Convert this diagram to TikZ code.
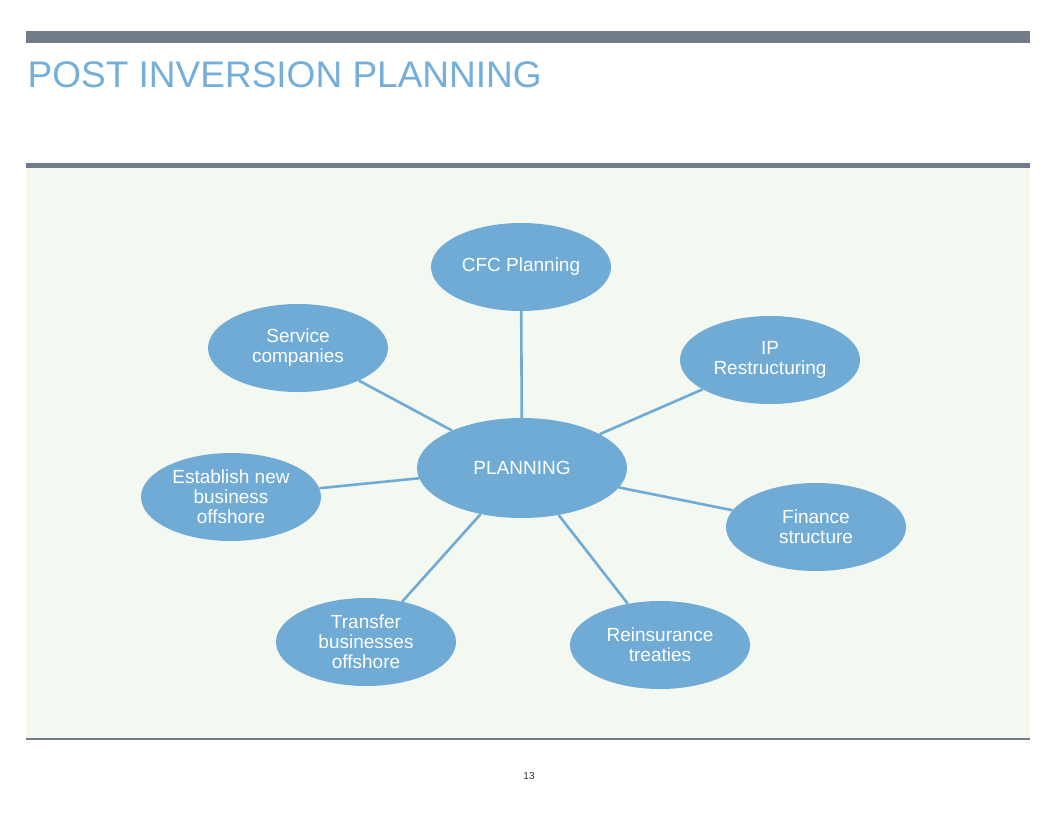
\documentclass[tikz,border=0pt]{standalone}
\usepackage{fontspec}
\setmainfont{Liberation Sans}
\usetikzlibrary{shapes.geometric}
\definecolor{bubble}{HTML}{70ABD6}
\definecolor{bar}{HTML}{727C88}
\definecolor{panel}{HTML}{F3F8F0}
\definecolor{titleblue}{HTML}{74AEDA}
\tikzset{
  bub/.style={ellipse, fill=bubble, draw=none, minimum width=180pt, minimum height=88pt, inner sep=0pt,
    align=center, text=white, font=\fontsize{19}{20}\selectfont},
  hub/.style={bub, minimum width=210pt, minimum height=100pt},
  link/.style={draw=bubble, line width=2.6pt}
}
\begin{document}
\begin{tikzpicture}[x=1pt,y=-1pt]
\useasboundingbox (0,0) rectangle (1056,816);
\fill[white] (0,0) rectangle (1056,816);
\fill[bar] (26,31) rectangle (1030,43);
\node[anchor=base west, inner sep=0pt, text=titleblue, font=\fontsize{37}{40}\selectfont] (title) at (27.5,87) {POST INVERSION PLANNING};
\fill[panel] (26,167) rectangle (1030,739);
\fill[bar] (26,163) rectangle (1030,167.5);
\draw[bar, line width=1.2pt] (26,739) -- (1030,739);
\node[font=\fontsize{10}{12}\selectfont, text=black!80] (pg) at (529,776) {13};

\node[hub] (c) at (522,468) {PLANNING};
\node[bub] (cfc) at (521,267) {CFC Planning};
\node[bub] (ip) at (770,360) {IP\\Restructuring};
\node[bub] (fin) at (816,527) {Finance\\structure};
\node[bub] (re) at (660,645) {Reinsurance\\treaties};
\node[bub] (tr) at (366,642) {Transfer\\businesses\\offshore};
\node[bub] (est) at (231,497) {Establish new\\business\\offshore};
\node[bub] (svc) at (298,348) {Service\\companies};

\foreach \n in {cfc,ip,fin,re,tr,est,svc}{
  \path[link] (c) -- (\n);
}
\end{tikzpicture}
\end{document}
